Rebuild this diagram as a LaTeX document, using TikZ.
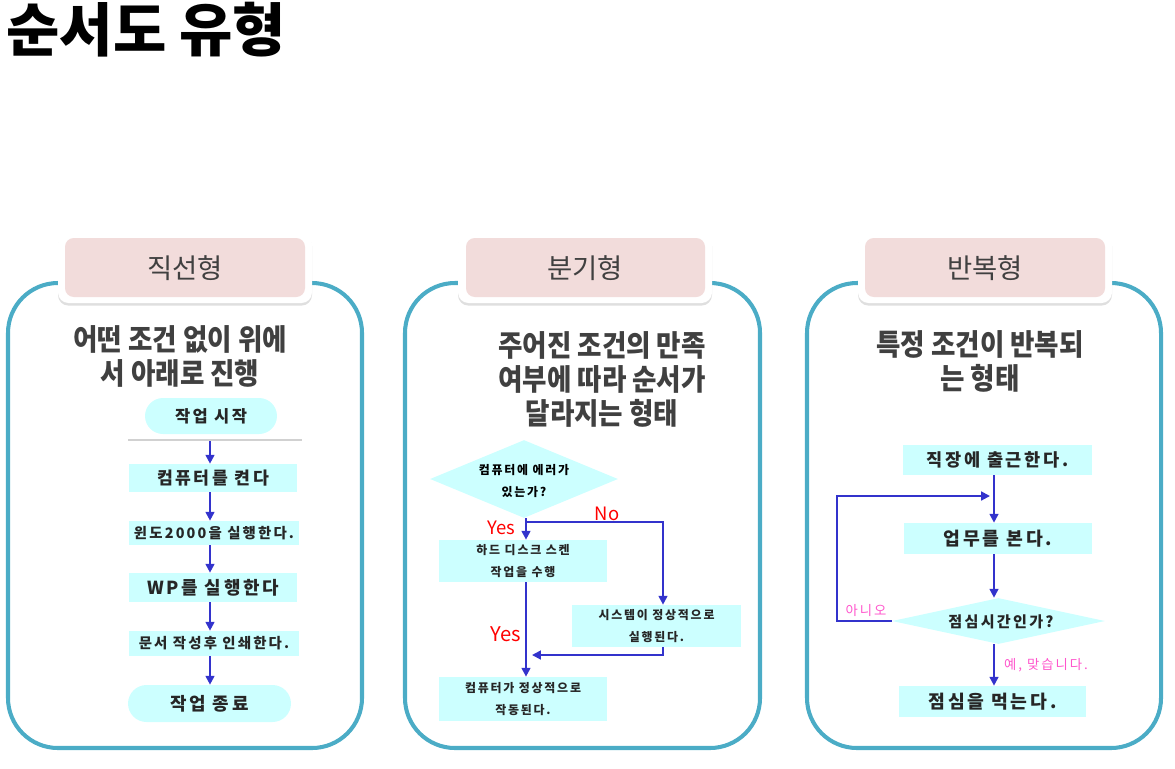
\documentclass[tikz,border=0pt]{standalone}
\usepackage{fontspec}
\setmainfont{Noto Sans CJK KR}
\newfontfamily\kr{Noto Sans CJK KR}
\newfontfamily\krsub[FakeStretch=0.9]{Noto Sans CJK KR}
\newfontfamily\krfc[LetterSpace=15]{Noto Sans CJK KR}
\usetikzlibrary{arrows.meta,shadows,shapes.geometric}
\definecolor{panelc}{HTML}{4BACC6}
\definecolor{tabpink}{HTML}{F2DCDB}
\definecolor{subgray}{HTML}{404040}
\definecolor{boxc}{HTML}{CCFFFF}
\definecolor{arrc}{HTML}{3333CC}
\definecolor{pinktxt}{HTML}{FF55CC}
\definecolor{redtxt}{HTML}{FF0000}
\tikzset{
  panel/.style={draw=panelc, line width=2.3pt, rounded corners=1cm},
  tabframe/.style={fill=white, rounded corners=6pt, drop shadow={opacity=0.25, shadow xshift=0pt, shadow yshift=-1.5pt}},
  tabfill/.style={fill=tabpink, rounded corners=5pt},
  tabtext/.style={text=subgray, font=\kr\fontsize{15.6}{18}\selectfont},
  subtitle/.style={text=subgray, align=center, font=\krsub\bfseries\fontsize{16.8}{19.3}\selectfont},
  box/.style={fill=boxc, inner sep=0pt, text=black!85, align=center},
  stadium/.style={box, rounded corners=0.36cm},
  dia/.style={diamond, fill=boxc, inner sep=0pt},
  arr/.style={draw=arrc, line width=1.1pt, -{Triangle[length=5pt,width=5pt]}},
  yesno/.style={text=redtxt, font=\kr\fontsize{10.5}{12}\selectfont},
  pinklbl/.style={text=pinktxt, font=\krfc\fontsize{7.6}{9}\selectfont},
  small/.style={font=\krfc\bfseries\fontsize{6.8}{12.5}\selectfont},
  fc/.style={font=\krfc\bfseries\fontsize{#1}{12}\selectfont},
}
\begin{document}
\begin{tikzpicture}[x=0.02cm, y=-0.02cm]
\useasboundingbox (0,0) rectangle (1175,768);
% title
\node[anchor=west, inner sep=0pt, font=\kr\bfseries\fontsize{33}{36}\selectfont] (title) at (6,30) {순서도 유형};

% panels
\draw[panel] (8,283) rectangle (362,748);
\draw[panel] (405,283) rectangle (760,748);
\draw[panel] (807,283) rectangle (1161,748);

% tabs
\fill[tabframe] (58,233) rectangle (312,303);
\fill[tabfill] (65,238) rectangle (305,297);
\node[tabtext] (t1) at (185,268) {직선형};
\fill[tabframe] (458,233) rectangle (712,303);
\fill[tabfill] (466,238) rectangle (705,297);
\node[tabtext] (t2) at (585,268) {분기형};
\fill[tabframe] (858,233) rectangle (1112,303);
\fill[tabfill] (865,238) rectangle (1105,297);
\node[tabtext] (t3) at (985,268) {반복형};

% subtitles
\node[subtitle] (st1) at (180,356) {어떤 조건 없이 위에\\서 아래로 진행};
\node[subtitle] (st2) at (602,379.5) {주어진 조건의 만족\\여부에 따라 순서가\\달라지는 형태};
\node[subtitle] (st3) at (980,361.5) {특정 조건이 반복되\\는 형태};

% ---------- panel 1 ----------
\coordinate (ax1) at (210,0);
\node[stadium, minimum width=2.64cm, minimum height=0.72cm, fc=9.4] (s1) at (211,416) {작업 시작};
\draw[line width=1.5pt, black!18] (128,440) -- (302,440);
\node[box, minimum width=3.36cm, minimum height=0.56cm, fc=9.8] (b1) at (213,478) {컴퓨터를 켠다};
\node[box, minimum width=3.4cm, minimum height=0.48cm, fc=8.2] (b2) at (214,533) {윈도2000을 실행한다.};
\node[box, minimum width=3.36cm, minimum height=0.58cm, fc=10.2] (b3) at (213,587.5) {WP를 실행한다};
\node[box, minimum width=3.4cm, minimum height=0.5cm, fc=8.2] (b4) at (214,643.5) {문서 작성후 인쇄한다.};
\node[stadium, minimum width=3.26cm, minimum height=0.74cm, rounded corners=0.37cm, fc=10.2] (e1) at (209.5,703.5) {작업 종료};
\draw[arr] (210,441) -- (b1.north -| ax1);
\draw[arr] (b1.south -| ax1) -- (b2.north -| ax1);
\draw[arr] (b2.south -| ax1) -- (b3.north -| ax1);
\draw[arr] (b3.south -| ax1) -- (b4.north -| ax1);
\draw[arr] (b4.south -| ax1) -- (e1.north -| ax1);

% ---------- panel 2 ----------
\coordinate (ax2) at (526,0);
\coordinate (nx) at (663,0);
\node[dia, minimum width=3.76cm, minimum height=1.56cm] (d1) at (524,479) {};
\node[small, align=center] (d1t) at (524,481) {컴퓨터에 에러가\\있는가?};
\node[box, small, minimum width=3.36cm, minimum height=0.84cm] (h1) at (523,561) {하드 디스크 스켄\\작업을 수행};
\node[box, small, minimum width=3.38cm, minimum height=0.84cm] (s2) at (656.5,626) {시스템이 정상적으로\\실행된다.};
\node[box, small, minimum width=3.36cm, minimum height=0.88cm] (c2) at (523,699) {컴퓨터가 정상적으로\\작동된다.};
\coordinate (j1) at (526,522);
\coordinate (m1) at (532,655);
\draw[arr] (d1.south -| ax2) -- (h1.north -| ax2);
\draw[arr] (j1) -| (s2.north -| nx);
\draw[arr] (h1.south -| ax2) -- (c2.north -| ax2);
\draw[arr] (s2.south -| nx) |- (m1);
\node[yesno] (y1) at (501,528) {Yes};
\node[yesno] (n1) at (607,514) {No};
\node[yesno, font=\kr\fontsize{11.5}{13}\selectfont] (y2) at (506,634) {Yes};

% ---------- panel 3 ----------
\coordinate (vx) at (994,0);
\node[box, minimum width=3.78cm, minimum height=0.6cm, fc=10] (w1) at (997.5,460) {직장에 출근한다.};
\node[box, minimum width=3.76cm, minimum height=0.62cm, fc=10.4] (w2) at (998,538.5) {업무를 본다.};
\node[dia, minimum width=4.26cm, minimum height=0.92cm] (d3) at (998.5,621) {};
\node[fc=8.6, text=black!85] (d3t) at (1001,622) {점심시간인가?};
\node[box, minimum width=3.74cm, minimum height=0.62cm, fc=10.4] (w3) at (992.5,701.5) {점심을 먹는다.};
\coordinate (lc) at (837,496);
\coordinate (lp) at (990,496);
\draw[arr] (w1.south -| vx) -- (w2.north -| vx);
\draw[arr] (d3.west) -| (lc) -- (lp);
\draw[arr] (w2.south -| vx) -- (d3.north -| vx);
\draw[arr] (d3.south -| vx) -- (w3.north -| vx);
\node[pinklbl] (no3) at (866,610) {아니오};
\node[pinklbl] (yes3) at (1046,665) {예, 맞습니다.};
\end{tikzpicture}
\end{document}
